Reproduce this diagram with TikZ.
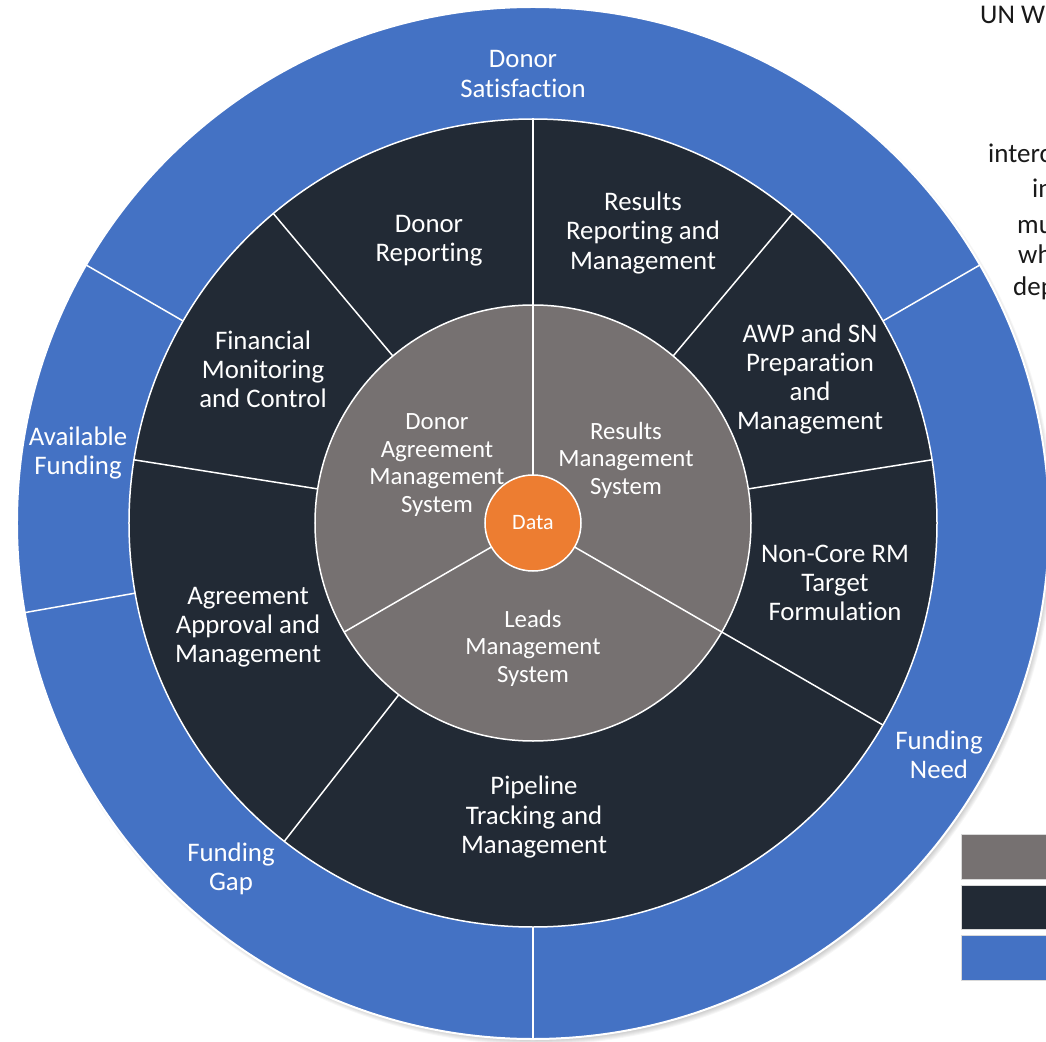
\documentclass[tikz,border=0pt]{standalone}
\usepackage{fontspec}
\setmainfont{Carlito}[Ligatures=NoCommon]
\definecolor{ringblue}{HTML}{4472C4}
\definecolor{ringdark}{HTML}{222A35}
\definecolor{coregray}{HTML}{767171}
\definecolor{dataorange}{HTML}{ED7D31}
\begin{document}
\begin{tikzpicture}[x=1pt,y=1pt,
    ringlabel/.style={text=white,align=center,font=\fontsize{26.8}{29.2}\selectfont},
    corelabel/.style={text=white,align=center,font=\fontsize{24.8}{27.6}\selectfont},
    spoke/.style={draw=white,line width=1.5pt},
    sidetext/.style={anchor=base west,inner sep=0pt,text=black!90,font=\fontsize{27}{30}\selectfont},
    keybox/.style={draw=black!15,line width=1pt}]
\useasboundingbox (-533,-518) rectangle (513,523);

\foreach \s in {1,...,8}
    \fill[black,opacity=0.035] (3,-4) circle ({510pt+\s pt});

\filldraw[fill=ringblue,draw=white,line width=2pt] (0,0) circle (516pt);
\filldraw[fill=ringdark,draw=white,line width=1.5pt] (0,0) circle (404pt);
\filldraw[fill=coregray,draw=white,line width=1.5pt] (0,0) circle (218pt);

\foreach \a in {30,150,190,270}
    \draw[spoke] (\a:404) -- (\a:516);
\foreach \a in {9,50,130,171,232}
    \draw[spoke] (\a:218) -- (\a:404);
\foreach \a in {90,330}
    \draw[spoke] (\a:48) -- (\a:404);
\draw[spoke] (210:48) -- (210:218);

\filldraw[fill=dataorange,draw=white,line width=1.5pt] (0,0) circle (48pt);

\node[ringlabel] (donorsat) at (-10,449) {Donor\\Satisfaction};
\node[ringlabel] (availfund) at (-455,70) {Available\\Funding};
\node[ringlabel] (fundgap) at (-302,-346) {Funding\\Gap};
\node[ringlabel] (fundneed) at (406,-232) {Funding\\Need};

\node[ringlabel] (donorrep) at (-104,282) {Donor\\Reporting};
\node[ringlabel] (resultsrep) at (110,290) {Results\\Reporting and\\Management};
\node[ringlabel] (finmon) at (-270,154) {Financial\\Monitoring\\and Control};
\node[ringlabel] (awpsn) at (277,144) {AWP and SN\\Preparation\\and\\Management};
\node[ringlabel] (noncore) at (302,-60) {Non-Core RM\\Target\\Formulation};
\node[ringlabel] (agreement) at (-285,-104) {Agreement\\Approval and\\Management};
\node[ringlabel] (pipeline) at (1,-294) {Pipeline\\Tracking and\\Management};

\node[corelabel] (dams) at (-96,58) {Donor\\Agreement\\Management\\System};
\node[corelabel] (rms) at (93,63) {Results\\Management\\System};
\node[corelabel] (lms) at (0,-125) {Leads\\Management\\System};
\node[text=white,font=\fontsize{22}{25}\selectfont] (data) at (0,0) {Data};

\filldraw[keybox,fill=coregray] (428,-311) rectangle (520,-356);
\filldraw[keybox,fill=ringdark] (428,-362) rectangle (520,-406);
\filldraw[keybox,fill=ringblue] (428,-412) rectangle (520,-457);

\node[sidetext] (unw) at (447,499) {UN W};
\node[sidetext] (interc) at (455,360) {interc};
\node[sidetext] (in) at (499,325) {in};
\node[sidetext] (mu) at (484,289) {mu};
\node[sidetext] (wh) at (485,259) {wh};
\node[sidetext] (dep) at (480,227) {dep};
\end{tikzpicture}
\end{document}
